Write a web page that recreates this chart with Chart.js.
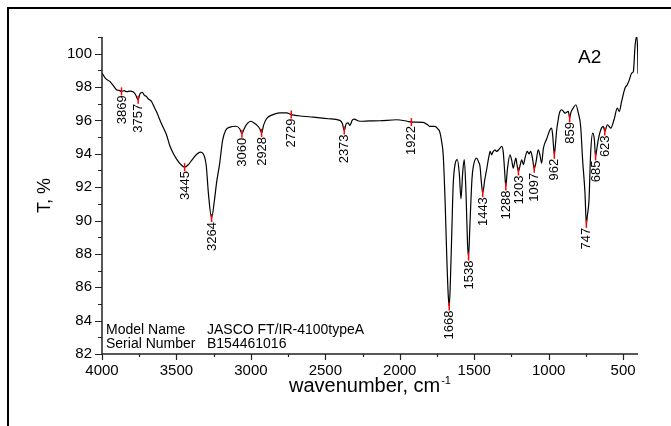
<!DOCTYPE html>
<html>
<head>
<meta charset="utf-8">
<script src="https://cdn.jsdelivr.net/npm/chart.js@4/dist/chart.umd.min.js"></script>
<style>
  body { margin: 0; background: #fff; }
  #wrap { position: relative; width: 671px; height: 426px; }
</style>
</head>
<body>
<div id="wrap"><canvas id="chart"></canvas></div>
<script>
// spectrum (wavenumber, cm-1 / transmittance, %)
const wavenumbers = [4000, 3975, 3948, 3925, 3903, 3885, 3869, 3850, 3836, 3810, 3792, 3775, 3765, 3757, 3745, 3729, 3715, 3702, 3690, 3668,
    3646, 3630, 3612, 3590, 3567, 3545, 3520, 3500, 3470, 3445, 3420, 3390, 3360, 3340, 3320, 3300, 3285, 3264, 3245, 3230,
    3210, 3190, 3170, 3140, 3100, 3075, 3060, 3045, 3030, 3000, 2980, 2958, 2940, 2928, 2915, 2895, 2851, 2806, 2760, 2729,
    2650, 2582, 2480, 2403, 2385, 2373, 2360, 2347, 2335, 2320, 2308, 2268, 2200, 2134, 2022, 1950, 1922, 1843, 1815, 1798,
    1764, 1745, 1731, 1720, 1708, 1695, 1685, 1675, 1668, 1660, 1650, 1641, 1628, 1614, 1600, 1589, 1578, 1567, 1555, 1545,
    1538, 1530, 1515, 1506, 1484, 1470, 1461, 1452, 1443, 1430, 1417, 1400, 1393, 1383, 1375, 1361, 1350, 1330, 1316, 1305,
    1296, 1288, 1278, 1260, 1248, 1238, 1228, 1220, 1212, 1203, 1192, 1181, 1170, 1160, 1144, 1132, 1121, 1108, 1097, 1085,
    1070, 1058, 1047, 1036, 1013, 991, 980, 972, 962, 955, 946, 936, 928, 912, 890, 868, 859, 850, 835, 817,
    801, 785, 772, 756, 747, 740, 729, 718, 704, 693, 685, 678, 667, 650, 633, 623, 606, 583, 561, 539,
    526, 510, 487, 472, 458, 442, 431, 420, 411, 402, 400];
const transmittance = [98.84, 98.5, 98.34, 98.1, 97.84, 97.8, 97.74, 97.78, 97.72, 97.76, 97.72, 97.55, 97.35, 97.24, 97.6, 97.68, 97.5, 97.44, 97.3, 97.14,
    96.74, 96.45, 96.04, 95.6, 95.14, 94.5, 94.0, 93.7, 93.35, 93.2, 93.35, 93.7, 94.0, 94.1, 94.0, 93.3, 91.6, 90.15, 91.2, 92.3,
    93.4, 94.8, 95.4, 95.6, 95.65, 95.5, 95.2, 95.5, 95.75, 95.95, 95.85, 95.7, 95.5, 95.25, 95.7, 96.1, 96.35, 96.45, 96.45, 96.35,
    96.25, 96.2, 96.1, 96.0, 95.8, 95.4, 95.8, 95.85, 95.7, 96.0, 96.08, 95.95, 95.97, 95.98, 96.04, 95.95, 95.9, 95.88, 95.75, 95.64,
    95.64, 95.5, 95.3, 94.8, 93.9, 91.0, 88.0, 85.6, 84.84, 86.4, 89.5, 92.2, 93.4, 93.65, 92.8, 91.3, 92.8, 93.65, 91.6, 88.6,
    87.84, 89.5, 92.5, 93.24, 93.74, 93.5, 93.24, 92.3, 91.64, 92.4, 93.04, 93.9, 94.14, 93.94, 94.1, 94.24, 94.14, 94.3, 94.44, 94.1,
    93.0, 92.04, 93.0, 93.94, 93.6, 93.14, 93.5, 93.74, 93.3, 92.94, 93.3, 93.64, 93.35, 93.7, 94.14, 94.0, 94.14, 93.7, 93.1, 93.5,
    94.24, 93.9, 93.44, 94.3, 94.9, 95.44, 95.54, 95.0, 93.94, 94.5, 95.44, 96.04, 96.44, 96.64, 96.44, 96.54, 96.14, 96.5, 96.74, 96.94,
    96.44, 95.64, 93.64, 91.64, 89.8, 90.3, 91.24, 94.04, 95.24, 94.84, 93.84, 94.2, 94.84, 95.44, 95.64, 95.34, 95.74, 95.54, 96.04, 96.74,
    96.54, 97.14, 97.94, 98.14, 98.44, 98.84, 98.94, 100.44, 101.0, 100.04, 98.8];

// labelled peaks
const peakWavenumbers = [3869, 3757, 3445, 3264, 3060, 2928, 2729, 2373, 1922, 1668, 1538, 1443, 1288, 1203, 1097, 962, 859, 747, 685, 623];
const peakValues = [97.74, 97.24, 93.2, 90.15, 95.2, 95.25, 96.35, 95.4, 95.9, 84.84, 87.84, 91.64, 92.04, 92.94, 93.1, 93.94, 96.14, 89.8, 93.84, 95.34];

const xTicks = [500, 1000, 1500, 2000, 2500, 3000, 3500, 4000];
const yTicks = [82, 84, 86, 88, 90, 92, 94, 96, 98, 100];

const FONT = "'Liberation Sans', Arial, sans-serif";

const decorPlugin = {
    id: "decor",
    beforeDraw(chart) {
        const ctx = chart.ctx;
        ctx.save();
        // frame round the picture (only left and top visible)
        ctx.strokeStyle = "#000";
        ctx.lineWidth = 2;
        ctx.beginPath();
        ctx.moveTo(8, 426);
        ctx.lineTo(8, 8);
        ctx.lineTo(671, 8);
        ctx.stroke();
        ctx.restore();
    },
    afterDraw(chart) {
        const ctx = chart.ctx;
        const xs = chart.scales.x;
        const ys = chart.scales.y;
        const area = chart.chartArea;
        ctx.save();

        // axes and ticks
        ctx.strokeStyle = "#222";
        ctx.lineWidth = 1.5;
        ctx.beginPath();
        ctx.moveTo(area.left, area.top);
        ctx.lineTo(area.left, area.bottom);
        ctx.lineTo(area.right, area.bottom);
        ctx.stroke();

        ctx.lineWidth = 1.2;
        ctx.beginPath();
        for (let v = 500; v <= 4000; v += 250) {
            const px = Math.round(xs.getPixelForValue(v)) + 0.5;
            const len = v % 500 === 0 ? 6 : 3;
            ctx.moveTo(px, area.bottom);
            ctx.lineTo(px, area.bottom + len);
        }
        for (let v = 82; v <= 101; v += 1) {
            const py = Math.round(ys.getPixelForValue(v)) + 0.5;
            const len = v % 2 === 0 ? 7 : 4;
            ctx.moveTo(area.left, py);
            ctx.lineTo(area.left - len, py);
        }
        ctx.stroke();

        // peak markers and labels
        ctx.font = "13px " + FONT;
        ctx.fillStyle = "#000";
        ctx.textAlign = "right";
        ctx.textBaseline = "middle";
        peakWavenumbers.forEach((wn, i) => {
            const px = xs.getPixelForValue(wn);
            const py = ys.getPixelForValue(peakValues[i]);
            ctx.strokeStyle = "#ff0000";
            ctx.lineWidth = 1.5;
            ctx.beginPath();
            ctx.moveTo(px, py - 4);
            ctx.lineTo(px, py + 4);
            ctx.stroke();
            ctx.save();
            ctx.translate(px + 0.5, py + 4);
            ctx.rotate(-Math.PI / 2);
            ctx.fillText(String(wn), 0, 0);
            ctx.restore();
        });

        // axis titles
        ctx.fillStyle = "#000";
        ctx.textBaseline = "alphabetic";
        ctx.save();
        ctx.font = "18px " + FONT;
        ctx.textAlign = "center";
        ctx.translate(50, (area.top + area.bottom) / 2);
        ctx.rotate(-Math.PI / 2);
        ctx.fillText("T, %", 0, 0);
        ctx.restore();

        ctx.font = "20px " + FONT;
        const main = "wavenumber, cm";
        const mainW = ctx.measureText(main).width;
        ctx.font = "11px " + FONT;
        const sup = "-1";
        const supW = ctx.measureText(sup).width;
        const startX = (area.left + area.right) / 2 - (mainW + supW + 1) / 2;
        ctx.textAlign = "left";
        ctx.font = "20px " + FONT;
        ctx.fillText(main, startX, 392);
        ctx.font = "11px " + FONT;
        ctx.fillText(sup, startX + mainW + 1, 384);

        // sample tag and instrument info
        ctx.font = "19px " + FONT;
        ctx.fillText("A2", 578, 63);
        ctx.font = "14px " + FONT;
        ctx.textBaseline = "middle";
        ctx.fillText("Model Name", 106, 330);
        ctx.fillText("JASCO FT/IR-4100typeA", 207, 330);
        ctx.fillText("Serial Number", 106, 344);
        ctx.fillText("B154461016", 207, 344);

        ctx.restore();
    }
};

new Chart(document.getElementById("chart"), {
    type: "line",
    data: {
        datasets: [{
            data: wavenumbers.map((wn, i) => ({ x: wn, y: transmittance[i] })),
            borderColor: "#000",
            borderWidth: 1.2,
            pointRadius: 0,
            fill: false,
            cubicInterpolationMode: "monotone"
        }]
    },
    options: {
        responsive: true,
        maintainAspectRatio: false,
        animation: false,
        layout: { padding: { top: 37, right: 33, left: 0, bottom: 0 } },
        plugins: { legend: { display: false }, tooltip: { enabled: false } },
        scales: {
            x: {
                type: "linear",
                reverse: true,
                min: 400,
                max: 4000,
                grid: { display: false, drawTicks: false },
                border: { display: false },
                afterBuildTicks: s => { s.ticks = xTicks.map(v => ({ value: v })); },
                afterFit: s => { s.height = 72; },
                ticks: { color: "#000", font: { family: FONT, size: 15 }, padding: 8, maxRotation: 0, callback: v => String(v) }
            },
            y: {
                min: 82,
                max: 101,
                grid: { display: false, drawTicks: false },
                border: { display: false },
                afterBuildTicks: s => { s.ticks = yTicks.map(v => ({ value: v })); },
                afterFit: s => { s.width = 102; },
                ticks: { color: "#000", font: { family: FONT, size: 15 }, padding: 10, callback: v => String(v) }
            }
        }
    },
    plugins: [decorPlugin]
});
</script>
</body>
</html>
